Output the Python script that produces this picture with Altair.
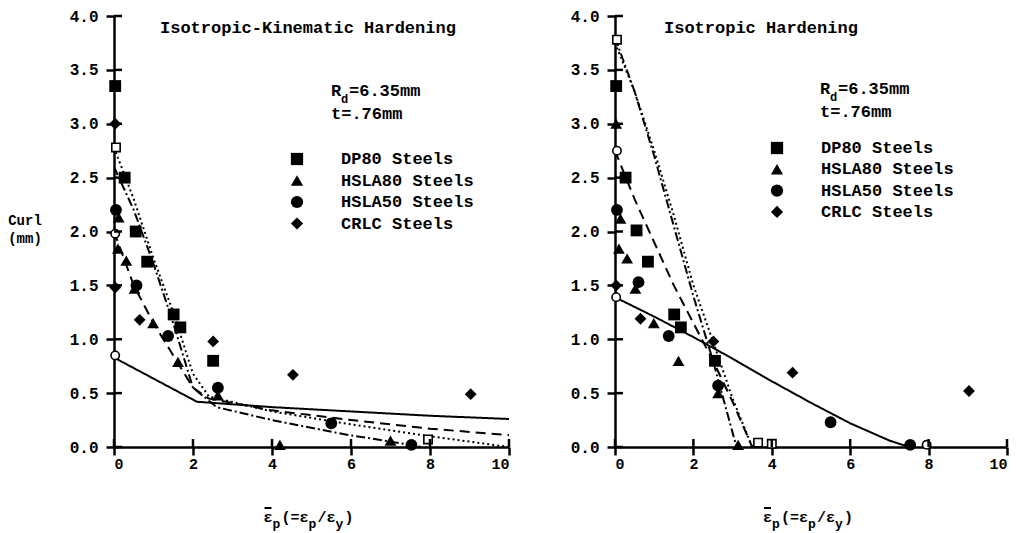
import altair as alt
import pandas as pd

# ---------------- data ----------------
# experimental points (both panels)
dp80_x_L = [0.03, 0.27, 0.55, 0.84, 1.51, 1.68, 2.51]
dp80_y_L = [3.35, 2.50, 2.00, 1.72, 1.23, 1.11, 0.80]
hsla80_x_L = [0.12, 0.10, 0.31, 0.52, 0.99, 1.62, 2.63, 4.20, 7.00]
hsla80_y_L = [2.13, 1.84, 1.73, 1.47, 1.15, 0.79, 0.48, 0.02, 0.06]
hsla50_x_L = [0.05, 0.57, 1.37, 2.63, 5.50, 7.53]
hsla50_y_L = [2.20, 1.50, 1.03, 0.55, 0.22, 0.02]
crlc_x_L = [0.03, 0.03, 0.65, 2.51, 4.53, 9.03]
crlc_y_L = [3.00, 1.48, 1.18, 0.98, 0.67, 0.49]

dp80_x_R = [0.03, 0.27, 0.55, 0.84, 1.51, 1.68, 2.55]
dp80_y_R = [3.35, 2.50, 2.01, 1.72, 1.23, 1.11, 0.80]
hsla80_x_R = [0.03, 0.14, 0.10, 0.31, 0.52, 0.99, 1.62, 2.63, 3.14]
hsla80_y_R = [3.00, 2.12, 1.84, 1.75, 1.47, 1.15, 0.80, 0.50, 0.02]
hsla50_x_R = [0.05, 0.60, 1.37, 2.63, 5.50, 7.53]
hsla50_y_R = [2.20, 1.53, 1.03, 0.57, 0.23, 0.02]
crlc_x_R = [0.03, 0.65, 2.51, 4.53, 9.03]
crlc_y_R = [1.50, 1.19, 0.98, 0.69, 0.52]

# open (predicted) markers
open_shape_L = ["square", "circle", "circle", "square"]
open_x_L = [0.05, 0.03, 0.03, 7.95]
open_y_L = [2.78, 1.98, 0.85, 0.07]
open_shape_R = ["square", "circle", "circle", "square", "square", "circle"]
open_x_R = [0.05, 0.05, 0.03, 3.65, 4.00, 7.95]
open_y_R = [3.78, 2.75, 1.39, 0.04, 0.03, 0.02]

# predicted curves
solid_x_L = [0, 2.1, 4, 6, 8, 10]
solid_y_L = [0.83, 0.42, 0.37, 0.33, 0.29, 0.26]
dashed_x_L = [0, 0.5, 1.0, 1.5, 2.0, 2.4, 4, 6, 8, 10]
dashed_y_L = [2.0, 1.5, 1.15, 0.85, 0.55, 0.45, 0.34, 0.25, 0.17, 0.11]
dotted_x_L = [0, 0.5, 1.0, 1.5, 2.0, 2.4, 4, 6, 8, 10]
dotted_y_L = [2.78, 2.3, 1.75, 1.25, 0.68, 0.47, 0.33, 0.21, 0.10, 0.0]
dashdot_x_L = [0, 0.5, 1.0, 1.5, 2.0, 2.6, 4, 5.8, 7, 7.8]
dashdot_y_L = [2.6, 2.2, 1.7, 1.15, 0.55, 0.37, 0.25, 0.12, 0.05, 0.0]

solid_x_R = [0, 1, 2, 3, 4, 5, 6, 7, 7.5]
solid_y_R = [1.39, 1.21, 1.02, 0.82, 0.61, 0.41, 0.22, 0.06, 0.0]
dashed_x_R = [0, 0.5, 1.0, 1.5, 2.0, 2.5, 3.0, 3.5]
dashed_y_R = [2.75, 2.3, 1.9, 1.5, 1.15, 0.8, 0.42, 0.0]
dotted_x_R = [0, 0.5, 1.0, 1.5, 2.0, 2.5, 3.0, 3.5]
dotted_y_R = [3.75, 3.3, 2.75, 2.15, 1.5, 0.98, 0.45, 0.0]
dashdot_x_R = [0, 0.5, 1.0, 1.5, 2.0, 2.5, 2.8, 3.1]
dashdot_y_R = [3.8, 3.3, 2.7, 2.05, 1.4, 0.8, 0.4, 0.0]

series_names = ["DP80 Steels", "HSLA80 Steels", "HSLA50 Steels", "CRLC Steels"]
series_shapes = ["square", "triangle-up", "circle", "diamond"]
curve_names = ["solid", "dashed", "dotted", "dashdot"]
curve_dashes = [[1, 0], [10, 6], [2, 3], [9, 3, 2, 3]]
x_ticks = [0, 2, 4, 6, 8, 10]
y_ticks = [0.0, 0.5, 1.0, 1.5, 2.0, 2.5, 3.0, 3.5, 4.0]

FONT = "Liberation Mono"
W_L, W_R, H = 395, 392, 431


def panel(width, title, title_dx, pts, opens, curves, leg_x, leg_y0, leg_dy, note_x, note_y, curl):
    xs = alt.Scale(domain=[0, 10], nice=False)
    ys = alt.Scale(domain=[0, 4], nice=False)
    X = alt.X("x:Q", scale=xs, axis=alt.Axis(values=x_ticks, format="d", title=None, labelPadding=1,
                                               grid=False, labelFontSize=15))
    Y = alt.Y("y:Q", scale=ys, axis=alt.Axis(values=y_ticks, format=".1f", title=None, labelPadding=8,
                                               grid=False, labelFontSize=16))

    rows = []
    for name, (cx, cy) in zip(curve_names, curves):
        for a, b in zip(cx, cy):
            rows.append({"x": a, "y": b, "curve": name})
    lines = alt.Chart(pd.DataFrame(rows)).mark_line(color="black", strokeWidth=2, clip=True).encode(
        x=X, y=Y,
        strokeDash=alt.StrokeDash("curve:N", scale=alt.Scale(domain=curve_names, range=curve_dashes), legend=None),
        detail="curve:N",
    )

    prow = []
    for name, (px, py) in zip(series_names, pts):
        for a, b in zip(px, py):
            prow.append({"x": a, "y": b, "series": name})
    points = alt.Chart(pd.DataFrame(prow)).mark_point(filled=True, color="black", opacity=1, size=140).encode(
        x=X, y=Y,
        shape=alt.Shape("series:N", scale=alt.Scale(domain=series_names, range=series_shapes), legend=None),
    )

    oshape, ox, oy = opens
    opn = alt.Chart(pd.DataFrame({"x": ox, "y": oy, "s": oshape})).mark_point(
        filled=False, color="black", fill="white", fillOpacity=1, strokeWidth=1.6, size=70, opacity=1
    ).encode(x=X, y=Y, shape=alt.Shape("s:N", scale=None))

    # inner tick halves
    ytk = alt.Chart(pd.DataFrame({"y": y_ticks})).mark_rule(color="black", strokeWidth=2.5).encode(
        y=Y, x=alt.value(0), x2=alt.value(8))
    xtk = alt.Chart(pd.DataFrame({"x": x_ticks})).mark_rule(color="black", strokeWidth=2.5).encode(
        x=X, y=alt.value(H - 8), y2=alt.value(H))

    layers = [lines, points, opn, ytk, xtk]

    def txt(s, x, y, size=17, align="left", baseline="middle"):
        return alt.Chart(pd.DataFrame({"a": [0]})).mark_text(
            text=s, font=FONT, fontWeight="bold", fontSize=size, align=align, baseline=baseline, color="black"
        ).encode(x=alt.value(x), y=alt.value(y))

    layers.append(txt(title, title_dx, 12, 17))
    # R_d annotation
    layers.append(txt("R", note_x, note_y, 17))
    layers.append(txt("d", note_x + 10, note_y + 8, 12))
    layers.append(txt("=6.35mm", note_x + 18, note_y, 17))
    layers.append(txt("t=.76mm", note_x, note_y + 23, 17))
    # legend
    for i, (name, shp) in enumerate(zip(series_names, series_shapes)):
        yy = leg_y0 + i * leg_dy
        layers.append(alt.Chart(pd.DataFrame({"a": [0]})).mark_point(
            shape=shp, filled=True, color="black", opacity=1, size=150
        ).encode(x=alt.value(leg_x), y=alt.value(yy)))
        layers.append(txt(name, leg_x + 44, yy, 17))
    # x axis title with subscripts
    x0 = width / 2 - 48
    cw = 9.0
    layers.append(txt("ε", x0, 501, 15))
    layers.append(alt.Chart(pd.DataFrame({"a": [0]})).mark_rule(color="black", strokeWidth=2).encode(
        x=alt.value(x0 + 1), x2=alt.value(x0 + 8), y=alt.value(492)))
    layers.append(txt("p", x0 + cw, 508, 13))
    layers.append(txt("(=ε", x0 + 2 * cw, 501, 15))
    layers.append(txt("p", x0 + 5 * cw, 508, 13))
    layers.append(txt("/ε", x0 + 6 * cw, 501, 15))
    layers.append(txt("y", x0 + 8 * cw, 508, 13))
    layers.append(txt(")", x0 + 9 * cw, 501, 15))
    if curl:
        layers.append(txt("Curl", -89, 205, 14, align="center"))
        layers.append(txt("(mm)", -89, 223, 14, align="center"))

    return alt.layer(*layers).properties(width=width, height=H)


left = panel(
    W_L, "Isotropic-Kinematic Hardening", 46,
    [(dp80_x_L, dp80_y_L), (hsla80_x_L, hsla80_y_L), (hsla50_x_L, hsla50_y_L), (crlc_x_L, crlc_y_L)],
    (open_shape_L, open_x_L, open_y_L),
    [(solid_x_L, solid_y_L), (dashed_x_L, dashed_y_L), (dotted_x_L, dotted_y_L), (dashdot_x_L, dashdot_y_L)],
    183, 143, 21.5, 217, 75, True,
)
right = panel(
    W_R, "Isotropic Hardening", 49,
    [(dp80_x_R, dp80_y_R), (hsla80_x_R, hsla80_y_R), (hsla50_x_R, hsla50_y_R), (crlc_x_R, crlc_y_R)],
    (open_shape_R, open_x_R, open_y_R),
    [(solid_x_R, solid_y_R), (dashed_x_R, dashed_y_R), (dotted_x_R, dotted_y_R), (dashdot_x_R, dashdot_y_R)],
    162, 132, 21.3, 205, 73, False,
)

chart = alt.hconcat(left, right, spacing=59).properties(padding=0, background="white").configure_view(
    stroke=None
).configure_axis(
    grid=False, domainColor="black", domainWidth=2.5, tickColor="black", tickWidth=2.5, tickSize=8,
    labelFont=FONT, labelFontWeight="bold", labelColor="black",
)

chart.save("out.html", embed_options={"renderer": "svg", "actions": False})
